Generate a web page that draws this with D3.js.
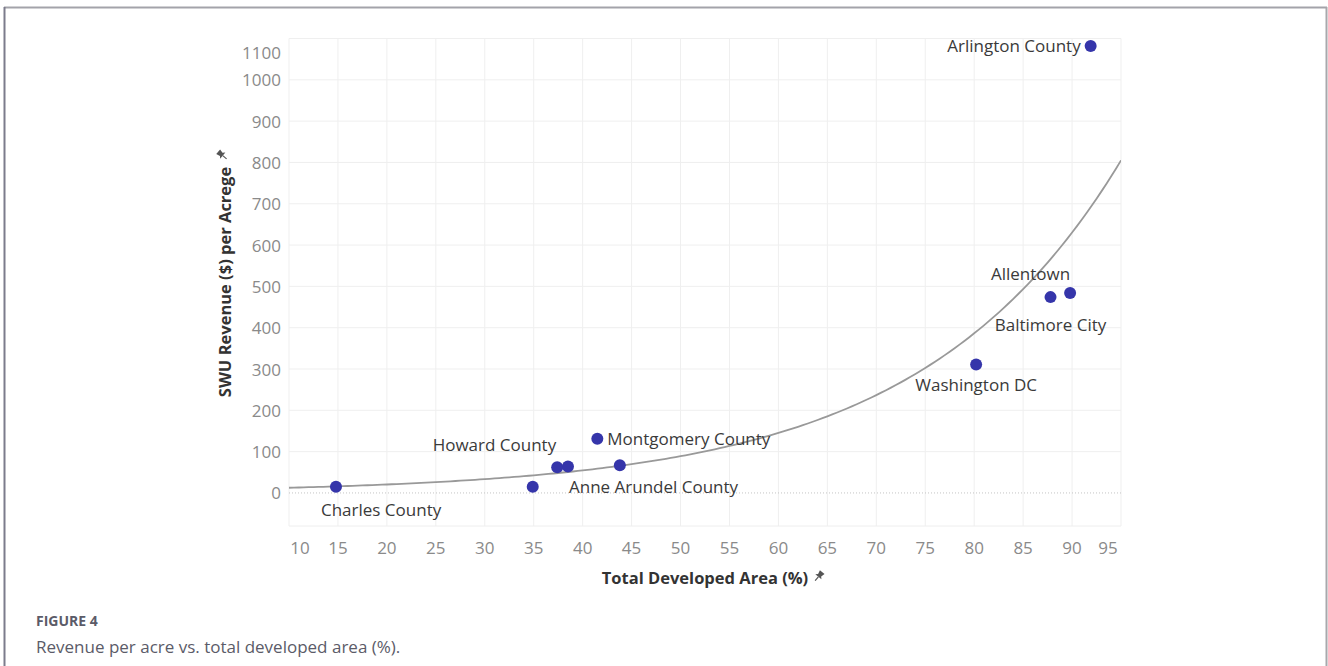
<!DOCTYPE html>
<html>
<head>
<meta charset="utf-8">
<script src="https://cdn.jsdelivr.net/npm/d3@7/dist/d3.min.js"></script>
<style>
  html, body { margin: 0; padding: 0; background: #fff; }
  svg { display: block; }
</style>
</head>
<body>
<svg id="chart" width="1328" height="666"></svg>
<script>
// ---------- DATA ----------
const places   = ["Charles County", "", "Howard County", "Anne Arundel County", "Montgomery County", "", "Washington DC", "Baltimore City", "Allentown", "Arlington County"];
const devArea  = [14.8, 34.9, 37.4, 38.5, 41.5, 43.8, 80.2, 87.8, 89.8, 91.9];
const revenue  = [15, 15, 62, 64, 131, 67, 311, 474, 484, 1082];
const xTicks   = [10, 15, 20, 25, 30, 35, 40, 45, 50, 55, 60, 65, 70, 75, 80, 85, 90, 95];
const yTicks   = [0, 100, 200, 300, 400, 500, 600, 700, 800, 900, 1000, 1100];
const xTitle   = "Total Developed Area (%)";
const yTitle   = "SWU Revenue ($) per Acrege";
const figLabel = "FIGURE 4";
const caption  = "Revenue per acre vs. total developed area (%).";

// label placement (layout only): anchor, dx, dy in px
const labelPlacement = [
  ["start", -15, 23], null, ["end", -1, -23], ["start", 1, 20], ["start", 10, 0],
  null, ["middle", 0, 20], ["middle", 0, 27], ["end", 0, -19], ["end", -10, 0]
];

// ---------- LAYOUT ----------
const svg = d3.select("#chart");
const W = 1328, H = 666;
const pLeft = 289, pRight = 1121, pTop = 38.5, pBottom = 526;

const x = d3.scaleLinear().domain([10, 95]).range([pLeft, pRight]);
const y = d3.scaleLinear().domain([-80, 1100]).range([pBottom, pTop]);

const tickFont = "'Open Sans', 'Noto Sans', sans-serif";

// frame
svg.append("line").attr("x1", 4).attr("x2", 1327).attr("y1", 7.5).attr("y2", 7.5)
  .attr("stroke", "#a3a3aa").attr("stroke-width", 2);
svg.append("line").attr("x1", 4.5).attr("x2", 4.5).attr("y1", 7).attr("y2", H)
  .attr("stroke", "#7c7c8c").attr("stroke-width", 2);
svg.append("line").attr("x1", 1326.5).attr("x2", 1326.5).attr("y1", 7).attr("y2", H)
  .attr("stroke", "#a8a8ac").attr("stroke-width", 2);

// grid
const g = svg.append("g");
g.selectAll(".vg").data(xTicks).join("line")
  .attr("x1", d => x(d)).attr("x2", d => x(d))
  .attr("y1", pTop).attr("y2", pBottom)
  .attr("stroke", "#efefef").attr("stroke-width", 1);
g.selectAll(".hg").data(yTicks.filter(d => d !== 0)).join("line")
  .attr("x1", pLeft).attr("x2", pRight)
  .attr("y1", d => y(d)).attr("y2", d => y(d))
  .attr("stroke", "#efefef").attr("stroke-width", 1);
g.append("line").attr("x1", pLeft).attr("x2", pRight)
  .attr("y1", pBottom).attr("y2", pBottom)
  .attr("stroke", "#eeeeee").attr("stroke-width", 1);
// zero line dotted
g.append("line").attr("x1", pLeft).attr("x2", pRight)
  .attr("y1", y(0)).attr("y2", y(0))
  .attr("stroke", "#c4c4c4").attr("stroke-width", 1).attr("stroke-dasharray", "1,2");

// y tick labels
svg.append("g").selectAll("text").data(yTicks).join("text")
  .attr("x", 281)
  .attr("y", d => Math.max(y(d), pTop + 13.5))
  .attr("text-anchor", "end").attr("dominant-baseline", "central")
  .attr("font-family", tickFont).attr("font-size", 17).attr("fill", "#8a8a8a")
  .text(d => d);

// x tick labels
svg.append("g").selectAll("text").data(xTicks).join("text")
  .attr("x", d => Math.min(Math.max(x(d), pLeft + 11), pRight - 13))
  .attr("y", 547)
  .attr("text-anchor", "middle").attr("dominant-baseline", "central")
  .attr("font-family", tickFont).attr("font-size", 17).attr("fill", "#8a8a8a")
  .text(d => d);

// pin icon
function pin(parent, cx, cy, rot) {
  const p = parent.append("g").attr("transform", `translate(${cx},${cy}) rotate(${rot})`);
  p.append("path").attr("d", "M-3,-5 L3,-5 L2,-1 L4,1 L-4,1 L-2,-1 Z").attr("fill", "#555");
  p.append("line").attr("x1", 0).attr("x2", 0).attr("y1", 1).attr("y2", 6)
    .attr("stroke", "#555").attr("stroke-width", 1.2);
}

// axis titles
svg.append("text").attr("x", 705).attr("y", 577)
  .attr("text-anchor", "middle").attr("dominant-baseline", "central")
  .attr("font-family", tickFont).attr("font-size", 16.5).attr("font-weight", "bold")
  .attr("fill", "#333").text(xTitle);
pin(svg, 819, 576, 40);

svg.append("text").attr("transform", "translate(224,282) rotate(-90)")
  .attr("text-anchor", "middle").attr("dominant-baseline", "central")
  .attr("font-family", tickFont).attr("font-size", 16.5).attr("font-weight", "bold")
  .attr("fill", "#333").text(yTitle);
pin(svg, 222, 155, -50);

// trend line (exponential, log-linear least squares on data)
const lx = devArea, ly = revenue.map(v => Math.log(v));
const mx = d3.mean(lx), my = d3.mean(ly);
const b = d3.sum(lx.map((v, i) => (v - mx) * (ly[i] - my))) / d3.sum(lx.map(v => (v - mx) ** 2));
const a = Math.exp(my - b * mx);
const trendXs = d3.range(10, 95.01, 0.5);
svg.append("defs").append("clipPath").attr("id", "clip")
  .append("rect").attr("x", pLeft).attr("y", pTop).attr("width", pRight - pLeft).attr("height", pBottom - pTop);
svg.append("path")
  .datum(trendXs)
  .attr("clip-path", "url(#clip)")
  .attr("d", d3.line().x(d => x(d)).y(d => y(a * Math.exp(b * d))))
  .attr("fill", "none").attr("stroke", "#999999").attr("stroke-width", 1.8);

// points
svg.append("g").selectAll("circle").data(devArea).join("circle")
  .attr("cx", d => x(d)).attr("cy", (d, i) => y(revenue[i]))
  .attr("r", 6).attr("fill", "#3535aa");

// labels
const labelIdx = d3.range(places.length).filter(i => places[i] && labelPlacement[i]);
svg.append("g").selectAll("text").data(labelIdx).join("text")
  .attr("x", i => x(devArea[i]) + labelPlacement[i][1])
  .attr("y", i => y(revenue[i]) + labelPlacement[i][2])
  .attr("text-anchor", i => labelPlacement[i][0])
  .attr("dominant-baseline", "central")
  .attr("font-family", tickFont).attr("font-size", 17).attr("fill", "#3a3a3a")
  .text(i => places[i]);

// caption
svg.append("text").attr("x", 36).attr("y", 620).attr("dominant-baseline", "central")
  .attr("font-family", tickFont).attr("font-size", 14).attr("font-weight", "bold")
  .attr("fill", "#5b5b68").text(figLabel);
svg.append("text").attr("x", 36).attr("y", 646).attr("dominant-baseline", "central")
  .attr("font-family", tickFont).attr("font-size", 17)
  .attr("fill", "#5b5b68").text(caption);
</script>
</body>
</html>
